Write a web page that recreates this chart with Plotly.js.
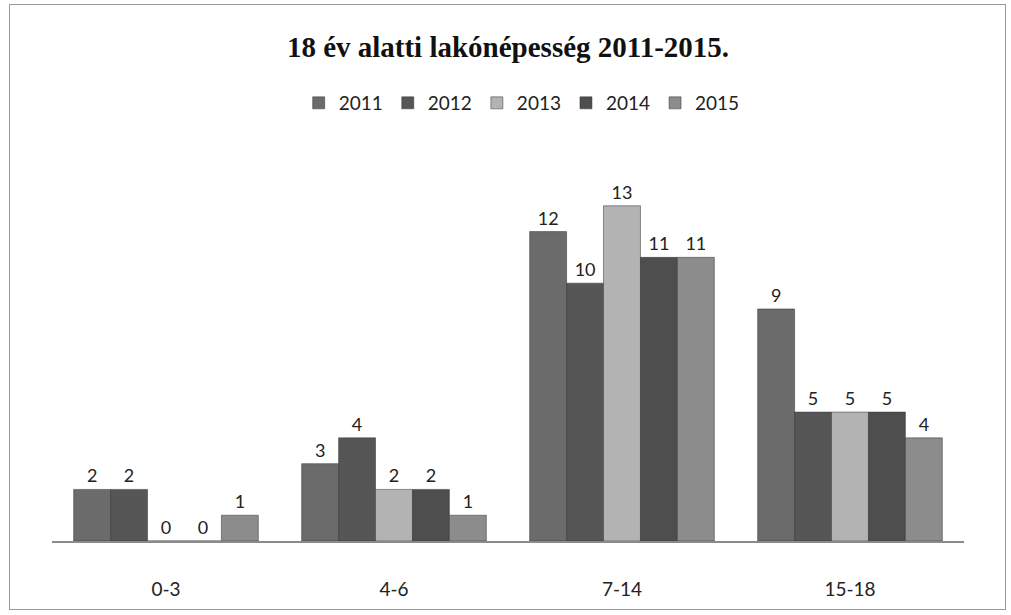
<!DOCTYPE html>
<html>
<head>
<meta charset="utf-8">
<script src="https://cdn.plot.ly/plotly-3.0.1.min.js"></script>
<style>
  html, body { margin: 0; padding: 0; background: #fff; }
  #wrap { position: relative; width: 1011px; height: 615px; }
  #chart { width: 1011px; height: 615px; }
  #frame { position: absolute; left: 9px; top: 4px; width: 995px; height: 604px;
           border: 1px solid #9a9a9a; pointer-events: none; }
</style>
</head>
<body>
<div id="wrap">
  <div id="chart"></div>
  <div id="frame"></div>
</div>
<script>
const categories = ["0-3", "4-6", "7-14", "15-18"];
const years = ["2011", "2012", "2013", "2014", "2015"];
const v2011 = [2, 3, 12, 9];
const v2012 = [2, 4, 10, 5];
const v2013 = [0, 2, 13, 5];
const v2014 = [0, 2, 11, 5];
const v2015 = [1, 1, 11, 4];
const seriesValues = [v2011, v2012, v2013, v2014, v2015];
const colors = ["#6b6b6b", "#565656", "#b3b3b3", "#4e4e4e", "#8c8c8c"];

const traces = years.map((y, i) => ({
  type: "bar",
  name: y,
  x: categories,
  y: seriesValues[i],
  text: seriesValues[i].map(String),
  textposition: "outside",
  cliponaxis: false,
  textfont: { family: "Lato, 'Open Sans', sans-serif", size: 18, color: "#222" },
  marker: { color: colors[i], line: { color: "#333", width: 0.5 } },
  hoverinfo: "x+y+name"
}));

const layout = {
  width: 1011, height: 615,
  paper_bgcolor: "#fff", plot_bgcolor: "#fff",
  margin: { l: 52, r: 47, t: 180, b: 74 },
  barmode: "group",
  bargap: 0.19,
  bargroupgap: 0,
  title: {
    text: "<b>18 év alatti lakónépesség 2011-2015.</b>",
    font: { family: "'Liberation Serif', 'DejaVu Serif', serif", size: 29, color: "#111" },
    x: 0.5, xanchor: "center", xref: "paper",
    y: 1 - 47 / 615, yref: "container", yanchor: "middle"
  },
  legend: {
    orientation: "h",
    x: 0.515, xanchor: "center",
    y: (541 - 103) / 361, yanchor: "middle",
    font: { family: "Lato, 'Open Sans', sans-serif", size: 19, color: "#222" },
    itemwidth: 30, tracegroupgap: 0
  },
  xaxis: {
    showline: true, linecolor: "#8a8a8a", linewidth: 2,
    ticks: "", showgrid: false, zeroline: false,
    ticklabelstandoff: 30,
    tickfont: { family: "Lato, 'Open Sans', sans-serif", size: 19, color: "#222" }
  },
  yaxis: {
    range: [0, 14], visible: false, showgrid: false, zeroline: false
  },
  showlegend: true
};

Plotly.newPlot("chart", traces, layout, { displayModeBar: false, staticPlot: true });
</script>
</body>
</html>
